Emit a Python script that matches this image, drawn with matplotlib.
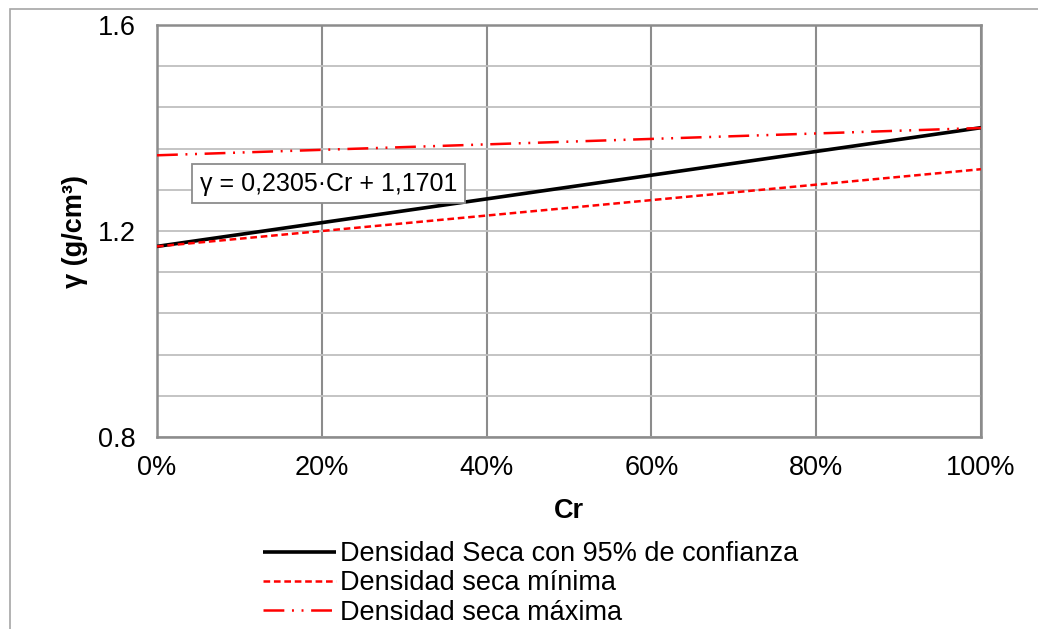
import matplotlib.pyplot as plt
from matplotlib.patches import Rectangle
from matplotlib.ticker import MultipleLocator, FixedLocator

# Datos
cr = [0.0, 1.0]
densidad_95 = [1.1701, 1.4006]
densidad_min = [1.170, 1.320]
densidad_max = [1.347, 1.400]
etiquetas = ['Densidad Seca con 95% de confianza',
             'Densidad seca mínima',
             'Densidad seca máxima']
x_ticks = [0.0, 0.2, 0.4, 0.6, 0.8, 1.0]
x_tick_labels = ['0%', '20%', '40%', '60%', '80%', '100%']
y_ticks = [0.8, 1.2, 1.6]
y_tick_labels = ['0.8', '1.2', '1.6']
ecuacion = 'γ = 0,2305·Cr + 1,1701'

plt.rcParams['font.family'] = ['Liberation Sans', 'DejaVu Sans']
plt.rcParams['lines.scale_dashes'] = False
fs = 19.5

W, H = 1038, 629
fig = plt.figure(figsize=(W / 100, H / 100), dpi=100)
ax = fig.add_axes([157 / W, 1 - 437 / H, (981 - 157) / W, (437 - 25) / H])

# Borde exterior del gráfico
fig.add_artist(Rectangle((10 / W, -0.1), 1.2, 1 - 9 / H + 0.1,
                         transform=fig.transFigure, fill=False,
                         edgecolor='#a6a6a6', linewidth=1.2))

ax.plot(cr, densidad_95, color='black', linewidth=2.6, label=etiquetas[0],
        solid_capstyle='butt', zorder=3)
ax.plot(cr, densidad_min, color='#ff0000', linewidth=1.8,
        linestyle=(0, (4.8, 2.7)), label=etiquetas[1], zorder=4)
ax.plot(cr, densidad_max, color='#ff0000', linewidth=1.8,
        linestyle=(0, (15, 5.5, 1.4, 5.5, 1.4, 5.5)), label=etiquetas[2], zorder=5)

ax.set_xlim(0, 1)
ax.set_ylim(0.8, 1.6)
ax.xaxis.set_major_locator(FixedLocator(x_ticks))
ax.set_xticklabels(x_tick_labels)
ax.yaxis.set_major_locator(FixedLocator(y_ticks))
ax.set_yticklabels(y_tick_labels)
ax.yaxis.set_minor_locator(MultipleLocator(0.08))

ax.grid(True, axis='y', which='both', color='#bfbfbf', linewidth=1.3, zorder=1)
ax.grid(True, axis='x', which='major', color='#8c8c8c', linewidth=1.5, zorder=1)
ax.set_axisbelow(True)
for s in ax.spines.values():
    s.set_color('#8c8c8c')
    s.set_linewidth(1.8)

ax.tick_params(axis='both', which='both', length=0, labelsize=fs)
ax.tick_params(axis='x', pad=13)
ax.tick_params(axis='y', pad=15.5)

ax.set_xlabel('Cr', fontsize=fs, fontweight='bold', labelpad=12)
ax.set_ylabel('γ (g/cm³)', fontsize=fs, fontweight='bold', labelpad=7)

ax.text(0.052, 1.2913, ecuacion, fontsize=18, ha='left', va='center', zorder=6,
        bbox=dict(boxstyle='square,pad=0.3', facecolor='white',
                  edgecolor='#8c8c8c', linewidth=1.3))

fig.legend(loc='upper left', bbox_to_anchor=(263 / W, 1 - 541 / H),
           frameon=False, fontsize=fs, handlelength=2.7, handletextpad=0.15,
           labelspacing=0.12, borderpad=0, borderaxespad=0)

fig.savefig('out.png', dpi=100)
